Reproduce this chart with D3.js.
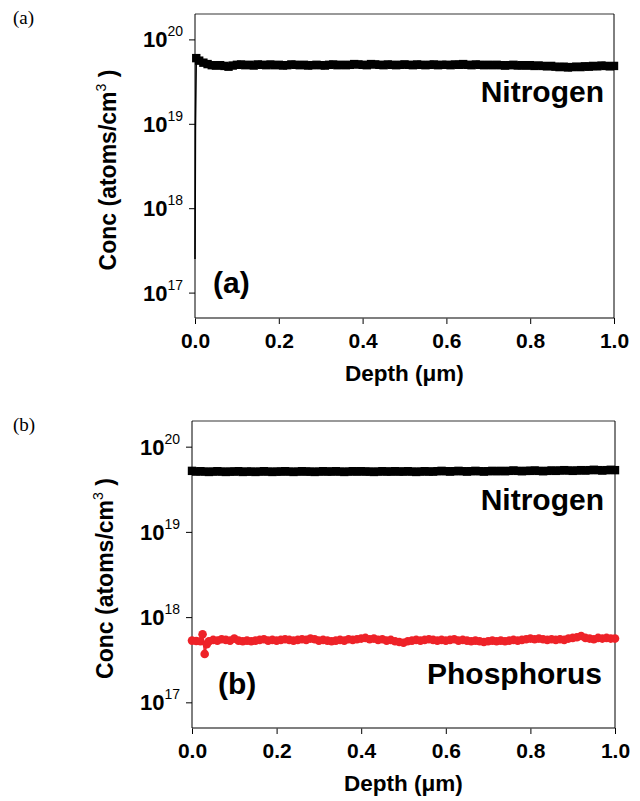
<!DOCTYPE html>
<html>
<head>
<meta charset="utf-8">
<script src="https://cdnjs.cloudflare.com/ajax/libs/d3/7.8.5/d3.min.js"></script>
<style>
  body { margin: 0; background: #fff; }
  svg { display: block; }
  .lbl { font-family: "Liberation Sans", Arial, sans-serif; font-weight: bold; fill: #000; }
</style>
</head>
<body>
<svg id="chart" width="640" height="801"></svg>
<script>
// depth grid in um, shared by the dense profiles
const depthGrid = d3.range(0, 101).map(i => i / 100);

// (a) nitrogen: steep rise at the surface, then the flat profile (atoms/cm3)
const nitrogenARiseDepth = [0, 0.001, 0.003];
const nitrogenARise = [2.5e17, 9e18, 6.0e19];
const nitrogenA = [
  5.6, 5.3, 5.1, 4.95, 4.9, 4.95, 4.85, 4.75, 4.9, 5.0,
  5.05, 4.95, 5.0, 4.9, 5.05, 5.0, 4.95, 5.05, 4.95, 5.0,
  4.9, 4.95, 5.05, 5.0, 4.95, 5.0, 4.9, 4.95, 5.0, 4.95,
  4.9, 5.0, 5.05, 4.95, 5.0, 4.95, 5.0, 5.1, 5.05, 5.0,
  4.95, 5.1, 5.05, 5.0, 4.95, 5.05, 5.0, 4.95, 5.0, 5.05,
  5.0, 4.95, 5.05, 5.0, 4.95, 5.0, 5.05, 4.95, 5.0, 5.0,
  4.95, 5.05, 5.0, 5.1, 5.0, 4.95, 5.05, 5.0, 4.95, 5.0,
  4.95, 5.0, 4.95, 4.9, 4.95, 5.0, 4.9, 4.95, 4.9, 4.95,
  4.85, 4.9, 4.85, 4.8, 4.85, 4.75, 4.7, 4.75, 4.65, 4.7,
  4.75, 4.7, 4.8, 4.75, 4.85, 4.8, 4.9, 4.85, 4.8, 4.85
]; // x 1e19, depths 0.01 .. 1.00

// (b) nitrogen, x 1e19, depths 0.00 .. 1.00
const nitrogenB = [
  5.2, 5.1, 5.15, 5.1, 5.05, 5.1, 5.15, 5.1, 5.05, 5.1,
  5.1, 5.15, 5.05, 5.1, 5.1, 5.05, 5.1, 5.15, 5.1, 5.05,
  5.1, 5.1, 5.15, 5.1, 5.05, 5.1, 5.15, 5.1, 5.1, 5.05,
  5.1, 5.15, 5.1, 5.1, 5.15, 5.1, 5.05, 5.1, 5.15, 5.1,
  5.15, 5.1, 5.1, 5.05, 5.1, 5.15, 5.1, 5.1, 5.15, 5.1,
  5.1, 5.15, 5.1, 5.05, 5.1, 5.15, 5.1, 5.1, 5.15, 5.2,
  5.15, 5.1, 5.15, 5.2, 5.15, 5.1, 5.15, 5.2, 5.15, 5.1,
  5.15, 5.2, 5.15, 5.2, 5.15, 5.2, 5.25, 5.2, 5.15, 5.2,
  5.2, 5.25, 5.2, 5.15, 5.2, 5.25, 5.2, 5.25, 5.3, 5.25,
  5.2, 5.25, 5.3, 5.25, 5.3, 5.35, 5.3, 5.25, 5.3, 5.35,
  5.3
];

// (b) phosphorus, x 1e17: a few points around the surface spike, then the grid 0.04 .. 1.00
const phosphorusStartDepth = [0, 0.01, 0.02, 0.025, 0.03, 0.035];
const phosphorusStart = [5.3, 5.25, 5.2, 6.3, 3.7, 4.8];
const phosphorus = [
  5.2, 5.4, 5.3, 5.5, 5.4, 5.3, 5.6,
  5.3, 5.2, 5.3, 5.2, 5.3, 5.4, 5.5, 5.3, 5.4, 5.3,
  5.4, 5.5, 5.4, 5.3, 5.4, 5.5, 5.4, 5.6, 5.5, 5.3,
  5.4, 5.3, 5.2, 5.3, 5.4, 5.3, 5.5, 5.4, 5.5, 5.6,
  5.7, 5.5, 5.6, 5.4, 5.5, 5.3, 5.4, 5.2, 5.1, 5.0,
  5.2, 5.3, 5.4, 5.3, 5.4, 5.5, 5.4, 5.3, 5.4, 5.3,
  5.4, 5.5, 5.3, 5.4, 5.3, 5.2, 5.3, 5.2, 5.1, 5.2,
  5.3, 5.2, 5.3, 5.2, 5.3, 5.4, 5.3, 5.4, 5.5, 5.6,
  5.5, 5.6, 5.5, 5.4, 5.5, 5.4, 5.5, 5.4, 5.6, 5.7,
  5.8, 6.0, 5.7, 5.6, 5.5, 5.7, 5.6, 5.7, 5.6, 5.6
];

const xMajorTicks = [0, 0.2, 0.4, 0.6, 0.8, 1.0];
const xMinorTicks = [0.1, 0.3, 0.5, 0.7, 0.9];
const yDecades = [17, 18, 19, 20];
const yDomain = [5e16, 2e20];

const svg = d3.select("#chart");

function buildSeries(depths, values, scale, marked) {
  return depths.map((d, i) => ({depth: d, conc: values[i] * scale, marked: marked}));
}

const seriesNA = buildSeries(nitrogenARiseDepth, nitrogenARise, 1, false)
  .concat(buildSeries(depthGrid.slice(1), nitrogenA, 1e19, true));
seriesNA[2].marked = true;
const seriesNB = buildSeries(depthGrid, nitrogenB, 1e19, true);
const seriesP = buildSeries(phosphorusStartDepth, phosphorusStart, 1e17, true)
  .concat(buildSeries(depthGrid.slice(4), phosphorus, 1e17, true));

function drawPanel(box, series, notes, tag) {
  const g = svg.append("g");
  const x = d3.scaleLinear().domain([0, 1]).range([box.left, box.right]);
  const y = d3.scaleLog().domain(yDomain).range([box.bottom, box.top]);

  // minor y ticks 2..9 per decade
  const yMinor = [];
  yDecades.concat([16]).forEach(p => {
    for (let k = 2; k <= 9; k++) {
      const v = k * Math.pow(10, p);
      if (v > yDomain[0] && v < yDomain[1]) yMinor.push(v);
    }
  });

  const ax = g.append("g").attr("transform", `translate(${box.left},0)`);
  ax.call(d3.axisLeft(y).tickValues(yMinor).tickSize(3).tickFormat(""));
  ax.call(d3.axisLeft(y).tickValues(yDecades.map(p => Math.pow(10, p))).tickSize(6).tickFormat(""));
  ax.select(".domain").remove();
  ax.selectAll("line").attr("stroke", "#000");

  yDecades.forEach(p => {
    const t = g.append("text").attr("class", "lbl")
      .attr("x", box.left - 12).attr("y", y(Math.pow(10, p)) + 8)
      .attr("text-anchor", "end").style("font-size", "22px");
    t.append("tspan").text("10");
    t.append("tspan").attr("dy", -11).style("font-size", "14px").style("font-weight", "normal").text(p);
  });

  const bx = g.append("g").attr("transform", `translate(0,${box.bottom})`);
  bx.call(d3.axisBottom(x).tickValues(xMinorTicks).tickSize(3).tickFormat(""));
  bx.call(d3.axisBottom(x).tickValues(xMajorTicks).tickSize(6).tickFormat(d3.format(".1f")));
  bx.select(".domain").remove();
  bx.selectAll("line").attr("stroke", "#000");
  bx.selectAll("text").attr("class", "lbl").attr("dy", null).attr("y", 30)
    .style("font-size", "21px");

  // frame
  g.append("line").attr("x1", box.left).attr("x2", box.right).attr("y1", box.top).attr("y2", box.top)
    .attr("stroke", "#777").attr("stroke-width", 1.3);
  g.append("line").attr("x1", box.left).attr("x2", box.right).attr("y1", box.bottom).attr("y2", box.bottom)
    .attr("stroke", "#555").attr("stroke-width", 1.3);
  g.append("line").attr("x1", box.left).attr("x2", box.left).attr("y1", box.top).attr("y2", box.bottom)
    .attr("stroke", "#000");
  g.append("line").attr("x1", box.right).attr("x2", box.right).attr("y1", box.top).attr("y2", box.bottom)
    .attr("stroke", "#000");

  series.forEach(s => {
    g.append("path").datum(s.data)
      .attr("fill", "none").attr("stroke", s.color).attr("stroke-width", 1.6)
      .attr("d", d3.line().x(d => x(d.depth)).y(d => y(d.conc)));
    const pts = g.append("g").selectAll(null).data(s.data.filter(d => d.marked))
      .join(s.shape === "square" ? "rect" : "circle");
    if (s.shape === "square") {
      pts.attr("x", d => x(d.depth) - 4.2).attr("y", d => y(d.conc) - 4.2)
        .attr("width", 8.4).attr("height", 8.4).attr("fill", s.color);
    } else {
      pts.attr("cx", d => x(d.depth)).attr("cy", d => y(d.conc)).attr("r", 4.3).attr("fill", s.color);
    }
  });

  notes.forEach(n => {
    g.append("text").attr("class", "lbl").attr("x", n.x).attr("y", n.y)
      .attr("text-anchor", n.anchor || "start").style("font-size", n.size + "px").text(n.text);
  });

  // axis titles
  const yl = g.append("text").attr("class", "lbl")
    .attr("transform", `translate(${box.left - 79},${(box.top + box.bottom) / 2 + 4}) rotate(-90)`)
    .attr("text-anchor", "middle").style("font-size", "23px");
  yl.append("tspan").text("Conc (atoms/cm");
  yl.append("tspan").attr("dy", -10).style("font-size", "14px").style("font-weight", "normal").text("3");
  yl.append("tspan").attr("dy", 10).text(" )");

  g.append("text").attr("class", "lbl").attr("x", (box.left + box.right) / 2).attr("y", box.bottom + 63)
    .attr("text-anchor", "middle").style("font-size", "22.5px").text("Depth (\u03bcm)");

  g.append("text").attr("x", 13).attr("y", box.top + 10)
    .style("font-family", "'Liberation Serif', 'Times New Roman', serif").style("font-size", "19px")
    .text(tag);
}

drawPanel({left: 195, right: 614, top: 14, bottom: 318},
  [{data: seriesNA, color: "#000", shape: "square"}],
  [{text: "Nitrogen", x: 604, y: 102, size: 30, anchor: "end"},
   {text: "(a)", x: 213, y: 293, size: 30}], "(a)");

drawPanel({left: 192, right: 615, top: 421, bottom: 728},
  [{data: seriesNB, color: "#000", shape: "square"},
   {data: seriesP, color: "#ee2228", shape: "circle"}],
  [{text: "Nitrogen", x: 604, y: 510, size: 30, anchor: "end"},
   {text: "Phosphorus", x: 602, y: 684, size: 30, anchor: "end"},
   {text: "(b)", x: 218, y: 694, size: 30}], "(b)");
</script>
</body>
</html>
